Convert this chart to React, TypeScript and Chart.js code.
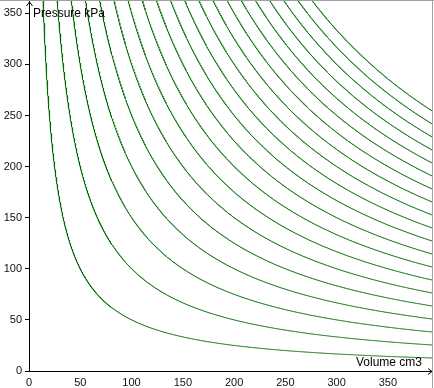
import React, { useEffect, useRef } from "react";
import { Chart, registerables } from "chart.js";

Chart.register(...registerables);

// Isotherm constants (P·V products, kPa·cm3): one per curve
const isothermConstants = [
  5000, 10000, 15000, 20000, 25000, 30000, 35000, 40000, 45000, 50000,
  55000, 60000, 65000, 70000, 75000, 80000, 85000, 90000, 95000, 100000,
];
const xTicks = [0, 50, 100, 150, 200, 250, 300, 350];
const yTicks = [0, 50, 100, 150, 200, 250, 300, 350];
const xTitle = "Volume cm3";
const yTitle = "Pressure kPa";
const X_MAX = 393;
const Y_MAX = 362;

const LINE_COLOR = "#006b00";

function buildCurve(k: number) {
  const pts: { x: number; y: number }[] = [];
  let v = 4;
  while (v <= X_MAX + 1) {
    const p = k / v; // Boyle's law: P = (P·V) / V
    if (p <= Y_MAX * 1.1) pts.push({ x: v, y: p });
    v += v < 80 ? 0.1 : 0.5;
  }
  return pts;
}

const decorPlugin = {
  id: "decor",
  afterDraw(chart: any) {
    const { ctx, chartArea, width, height } = chart;
    const left = chartArea.left + 0.5;
    const bottom = chartArea.bottom + 0.5;
    ctx.save();
    // frame lines (top and right)
    ctx.strokeStyle = "#a0a0a0";
    ctx.lineWidth = 1;
    ctx.beginPath();
    ctx.moveTo(0, 0.5);
    ctx.lineTo(width, 0.5);
    ctx.moveTo(width - 1.5, 0);
    ctx.lineTo(width - 1.5, height);
    ctx.stroke();
    // arrows
    ctx.strokeStyle = "#000";
    ctx.beginPath();
    ctx.moveTo(left - 3, 6);
    ctx.lineTo(left, 2);
    ctx.lineTo(left + 3, 6);
    ctx.moveTo(chartArea.right - 4, bottom - 3);
    ctx.lineTo(chartArea.right, bottom);
    ctx.lineTo(chartArea.right - 4, bottom + 3);
    ctx.stroke();
    // axis titles
    ctx.fillStyle = "#000";
    ctx.font = '12px "Liberation Sans", Arial, sans-serif';
    ctx.textBaseline = "alphabetic";
    ctx.textAlign = "left";
    ctx.fillText(yTitle, chartArea.left + 4, 17);
    ctx.textAlign = "right";
    ctx.fillText(xTitle, chartArea.right - 10, 366);
    ctx.restore();
  },
};

export default function App() {
  const ref = useRef<HTMLCanvasElement | null>(null);
  useEffect(() => {
    if (!ref.current) return;
    const chart = new Chart(ref.current, {
      type: "line",
      data: {
        datasets: isothermConstants.map((k) => ({
          label: `PV=${k}`,
          data: buildCurve(k),
          borderColor: LINE_COLOR,
          borderWidth: 1,
          pointRadius: 0,
          tension: 0,
          fill: false,
        })),
      },
      options: {
        responsive: false,
        animation: false,
        layout: { padding: { top: 1, right: 2, left: 0, bottom: 0 } },
        plugins: { legend: { display: false }, tooltip: { enabled: false } },
        scales: {
          x: {
            type: "linear",
            min: 0,
            max: X_MAX,
            afterFit: (s: any) => {
              s.height = 17;
              s.paddingLeft = 0;
              s.paddingRight = 0;
            },
            afterBuildTicks: (s: any) => {
              s.ticks = xTicks.map((v) => ({ value: v }));
            },
            border: { display: true, color: "#000", width: 1 },
            grid: { display: true, drawOnChartArea: false, drawTicks: false, color: "#000" },
            ticks: {
              includeBounds: false,
              maxRotation: 0,
              autoSkip: false,
              padding: 5,
              color: "#111",
              font: { size: 11, family: '"Liberation Sans", Arial, sans-serif' },
            },
          },
          y: {
            type: "linear",
            min: 0,
            max: Y_MAX,
            afterFit: (s: any) => {
              s.width = 29;
              s.paddingTop = 0;
              s.paddingBottom = 0;
            },
            afterBuildTicks: (s: any) => {
              s.ticks = yTicks.map((v) => ({ value: v }));
            },
            border: { display: true, color: "#000", width: 1 },
            grid: {
              display: true,
              drawOnChartArea: false,
              drawTicks: true,
              tickLength: 4,
              color: "#000",
            },
            ticks: {
              includeBounds: false,
              autoSkip: false,
              padding: 3,
              color: "#111",
              font: { size: 11, family: '"Liberation Sans", Arial, sans-serif' },
            },
          },
        },
      },
      plugins: [decorPlugin],
    });
    return () => chart.destroy();
  }, []);
  return (
    <div style={{ position: "absolute", left: 0, top: 0, width: 434, height: 388, background: "#fff" }}>
      <canvas ref={ref} width={434} height={388} />
    </div>
  );
}
